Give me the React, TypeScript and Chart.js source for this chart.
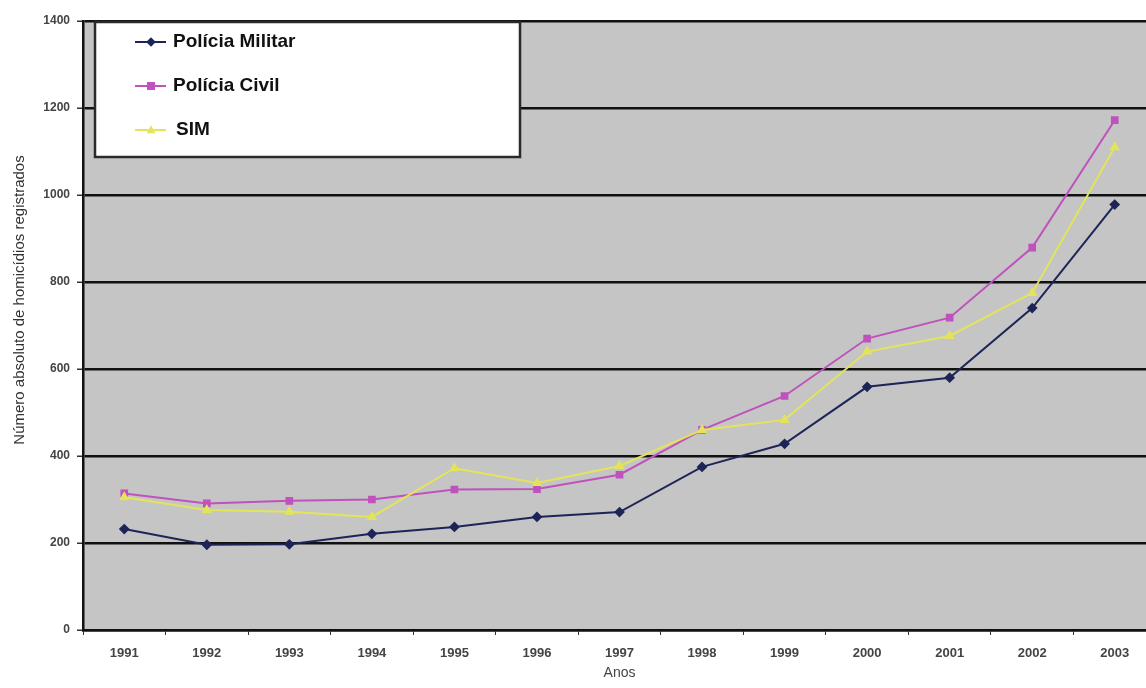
import React, { useEffect, useRef } from "react";
import { Chart, registerables } from "chart.js";

Chart.register(...registerables);

const years = ["1991", "1992", "1993", "1994", "1995", "1996", "1997", "1998", "1999", "2000", "2001", "2002", "2003"];
const policiaMilitar = [232, 196, 197, 221, 237, 260, 271, 375, 428, 559, 580, 740, 978];
const policiaCivil = [314, 291, 297, 300, 323, 324, 357, 460, 538, 670, 718, 879, 1172];
const sim = [305, 276, 272, 260, 372, 338, 377, 460, 483, 640, 676, 775, 1110];
const yTicks = [0, 200, 400, 600, 800, 1000, 1200, 1400];
const yTitle = "Número absoluto de homicídios registrados";
const xTitle = "Anos";

const FONT = "'Liberation Sans', Arial, sans-serif";

const seriesStyle = [
  { color: "#1d2558", point: "rectRot" },
  { color: "#bf52bc", point: "rect" },
  { color: "#e4e45a", point: "triangle" },
];

function drawMarker(ctx: CanvasRenderingContext2D, style: string, x: number, y: number, r: number, color: string) {
  ctx.save();
  ctx.fillStyle = color;
  ctx.beginPath();
  if (style === "rect") {
    ctx.rect(x - r, y - r, 2 * r, 2 * r);
  } else if (style === "rectRot") {
    ctx.moveTo(x, y - r * 1.2);
    ctx.lineTo(x + r * 1.2, y);
    ctx.lineTo(x, y + r * 1.2);
    ctx.lineTo(x - r * 1.2, y);
    ctx.closePath();
  } else {
    ctx.moveTo(x, y - r * 1.2);
    ctx.lineTo(x + r * 1.1, y + r * 0.8);
    ctx.lineTo(x - r * 1.1, y + r * 0.8);
    ctx.closePath();
  }
  ctx.fill();
  ctx.restore();
}

const plotBg = {
  id: "plotBg",
  beforeDraw(chart: any) {
    const { ctx, chartArea } = chart;
    ctx.save();
    ctx.fillStyle = "#c5c5c5";
    ctx.fillRect(chartArea.left, chartArea.top, chartArea.right - chartArea.left, chartArea.bottom - chartArea.top);
    ctx.restore();
  },
};

const boxLegend = {
  id: "boxLegend",
  afterDraw(chart: any) {
    const ctx: CanvasRenderingContext2D = chart.ctx;
    ctx.save();
    ctx.fillStyle = "#ffffff";
    ctx.fillRect(95, 22, 425, 135);
    ctx.strokeStyle = "#2a2a2a";
    ctx.lineWidth = 2.5;
    ctx.strokeRect(95, 22, 425, 135);
    chart.data.datasets.forEach((ds: any, i: number) => {
      const y = 42 + i * 44;
      const st = seriesStyle[i];
      ctx.strokeStyle = st.color;
      ctx.lineWidth = 2;
      ctx.beginPath();
      ctx.moveTo(135, y);
      ctx.lineTo(166, y);
      ctx.stroke();
      drawMarker(ctx, st.point, 151, y, 4, st.color);
      ctx.fillStyle = "#111111";
      ctx.font = `bold 19px ${FONT}`;
      ctx.textBaseline = "middle";
      ctx.textAlign = "left";
      ctx.fillText(ds.label, i === 2 ? 176 : 173, y);
    });
    // y axis title
    ctx.save();
    ctx.translate(20, 300);
    ctx.rotate(-Math.PI / 2);
    ctx.fillStyle = "#333333";
    ctx.font = `15px ${FONT}`;
    ctx.textAlign = "center";
    ctx.textBaseline = "middle";
    ctx.fillText(yTitle, 0, 0);
    ctx.restore();
    ctx.restore();
  },
};

export default function App() {
  const ref = useRef<HTMLCanvasElement | null>(null);
  useEffect(() => {
    if (!ref.current) return;
    const labels = ["Polícia Militar", "Polícia Civil", "SIM"];
    const values = [policiaMilitar, policiaCivil, sim];
    const chart = new Chart(ref.current, {
      type: "line",
      data: {
        labels: years,
        datasets: values.map((v, i) => ({
          label: labels[i],
          data: v,
          borderColor: seriesStyle[i].color,
          backgroundColor: seriesStyle[i].color,
          pointBackgroundColor: seriesStyle[i].color,
          pointBorderColor: seriesStyle[i].color,
          pointStyle: seriesStyle[i].point as any,
          pointRadius: 4,
          borderWidth: 2,
          tension: 0,
          order: 2 - i,
        })),
      },
      options: {
        responsive: false,
        animation: false,
        layout: { padding: { top: 21, right: 3, left: 0, bottom: 0 } },
        plugins: {
          legend: { display: false },
          tooltip: { enabled: false },
        },
        scales: {
          x: {
            type: "category",
            offset: true,
            grid: {
              offset: true,
              drawOnChartArea: false,
              drawTicks: true,
              tickLength: 5,
              color: "#333333",
              lineWidth: 1,
            },
            border: { display: true, color: "#111111", width: 2.5 },
            ticks: {
              color: "#444444",
              font: { family: FONT, size: 13, weight: "bold" },
              padding: 11,
              maxRotation: 0,
            },
            title: {
              display: true,
              text: xTitle,
              color: "#444444",
              font: { family: FONT, size: 14 },
              padding: { top: 0, bottom: 6 },
            },
            afterFit(scale: any) {
              scale.height = 58;
            },
          },
          y: {
            min: 0,
            max: 1400,
            afterBuildTicks(scale: any) {
              scale.ticks = yTicks.map((v) => ({ value: v }));
            },
            grid: {
              color: "#111111",
              lineWidth: 2.5,
              drawTicks: true,
              tickLength: 6,
              tickColor: "#333333",
              tickWidth: 1.5,
            },
            border: { display: true, color: "#111111", width: 2.5 },
            ticks: {
              color: "#444444",
              font: { family: FONT, size: 12, weight: "bold" },
              padding: 7,
              callback: (v: any) => String(v),
            },
            title: { display: false },
            afterFit(scale: any) {
              scale.width = 83;
            },
          },
        },
      },
      plugins: [plotBg, boxLegend],
    });
    return () => chart.destroy();
  }, []);
  return (
    <div style={{ position: "fixed", left: 0, top: 0, width: 1146, height: 688, overflow: "hidden", background: "#ffffff" }}>
      <canvas ref={ref} width={1162} height={688} style={{ display: "block", width: 1162, height: 688 }} />
    </div>
  );
}
